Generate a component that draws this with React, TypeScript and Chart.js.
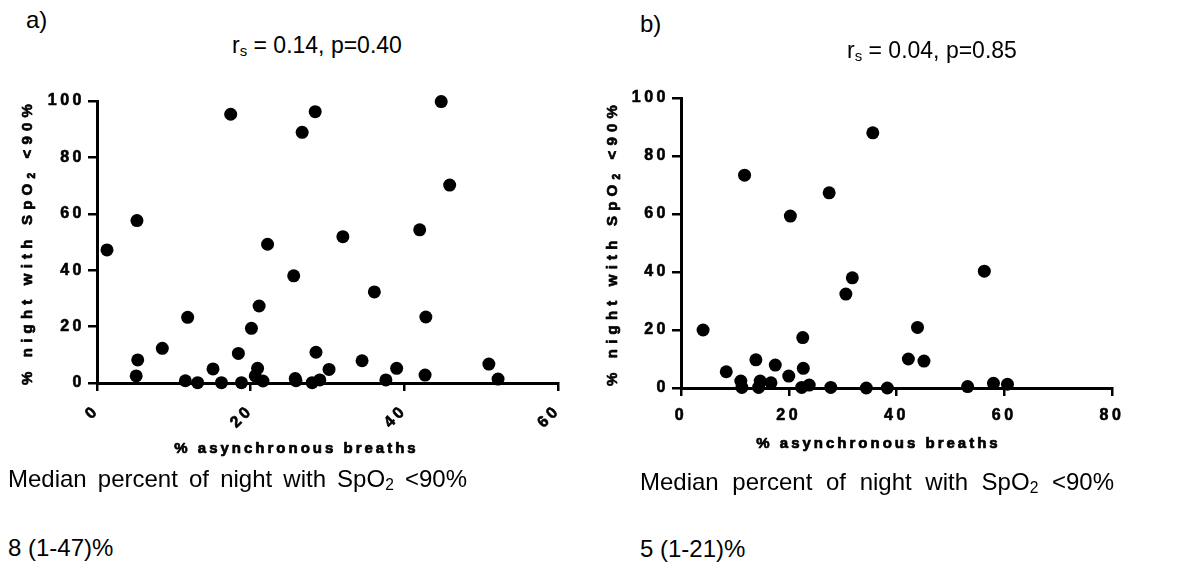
import React, { useEffect, useRef } from 'react';
import { Chart, registerables } from 'chart.js';

Chart.register(...registerables);

const FAMILY = 'Arial, "Liberation Sans", Helvetica, sans-serif';

// ---- Panel a) data ----
const panelAAsync = [1.3, 5.2, 5.3, 5.1, 8.5, 11.8, 11.5, 13.1, 15.1, 16.2, 17.4, 18.4, 18.8, 20.1, 21.1, 20.9, 20.6, 21.6, 22.2, 25.6, 25.8, 25.9, 26.7, 28.4, 28.5, 28.0, 29.0, 30.2, 32.0, 44.8, 45.9, 42.0, 36.1, 42.8, 34.5, 39.0, 37.6, 42.7, 51.0, 52.2];
const panelANight = [47.2, 57.6, 8.2, 2.5, 12.3, 23.3, 0.8, 0.1, 5.0, 0.1, 95.3, 10.5, 0.1, 19.4, 27.3, 5.2, 2.5, 0.7, 49.2, 38.0, 1.6, 0.8, 88.9, 96.2, 10.9, 0.1, 1.1, 4.8, 51.9, 99.8, 70.2, 54.3, 32.3, 23.4, 7.9, 5.2, 1.1, 2.8, 6.7, 1.4];
const panelAXTicks = [0, 20, 40, 60];
const panelAYTicks = [0, 20, 40, 60, 80, 100];

// ---- Panel b) data ----
const panelBAsync = [4.1, 8.4, 11.1, 11.3, 11.8, 13.9, 14.7, 14.4, 16.7, 17.5, 20.0, 20.3, 22.6, 22.7, 22.4, 23.8, 27.5, 27.8, 30.6, 31.8, 35.6, 34.4, 38.3, 56.3, 43.9, 42.2, 45.1, 53.2, 58.0, 60.6];
const panelBNight = [20.0, 5.6, 2.4, 0.2, 73.4, 9.7, 2.4, 0.2, 1.8, 7.9, 4.1, 59.3, 17.4, 6.8, 0.2, 1.0, 67.3, 0.2, 32.4, 38.0, 88.0, 0.0, 0.0, 40.3, 20.9, 10.0, 9.3, 0.5, 1.6, 1.3];
const panelBXTicks = [0, 20, 40, 60, 80];
const panelBYTicks = [0, 20, 40, 60, 80, 100];

const xTitleText = '% asynchronous breaths';
const yTitleParts = ['% night with SpO', '2', ' <90%'];

type Seg = { text: string; size: number; dy?: number };

function drawSegs(ctx: CanvasRenderingContext2D, segs: Seg[], cx: number, cy: number, rot: number, spacing: number) {
  ctx.save();
  ctx.translate(cx, cy);
  ctx.rotate(rot);
  (ctx as any).letterSpacing = spacing + 'px';
  ctx.textAlign = 'left';
  ctx.textBaseline = 'alphabetic';
  ctx.lineWidth = 0.7;
  ctx.strokeStyle = '#000';
  ctx.lineJoin = 'round';
  let total = 0;
  const widths = segs.map((s) => {
    ctx.font = `bold ${s.size}px ${FAMILY}`;
    const w = ctx.measureText(s.text).width;
    total += w;
    return w;
  });
  let x = -total / 2;
  segs.forEach((s, i) => {
    ctx.font = `bold ${s.size}px ${FAMILY}`;
    const y = 5.5 + (s.dy || 0);
    ctx.strokeText(s.text, x, y);
    ctx.fillText(s.text, x, y);
    x += widths[i];
  });
  ctx.restore();
}

const axisTitlesPlugin = {
  id: 'axisTitles',
  afterDraw(chart: any, _args: any, opts: any) {
    const ctx: CanvasRenderingContext2D = chart.ctx;
    const ca = chart.chartArea;
    ctx.save();
    ctx.fillStyle = '#000';
    drawSegs(ctx, [{ text: xTitleText, size: 15 }], (ca.left + ca.right) / 2 + opts.xTitleDx, opts.xTitleY, 0, 3);
    drawSegs(
      ctx,
      [
        { text: yTitleParts[0], size: 15 },
        { text: yTitleParts[1], size: 10, dy: 3 },
        { text: yTitleParts[2], size: 15 },
      ],
      opts.yTitleX,
      (ca.top + ca.bottom) / 2,
      -Math.PI / 2,
      5.2
    );
    ctx.restore();
  },
};

const tickSpacingPlugin = {
  id: 'tickSpacing',
  beforeUpdate(chart: any) {
    (chart.ctx as any).letterSpacing = '3.5px';
  },
  beforeDraw(chart: any) {
    (chart.ctx as any).letterSpacing = '3.5px';
  },
};

type Panel = {
  xs: number[];
  ys: number[];
  xTicks: number[];
  yTicks: number[];
  yAxisW: number;
  xAxisH: number;
  padTop: number;
  padRight: number;
  rot: number;
  xTickPad: number;
  xTitleY: number;
  xTitleDx: number;
  yTitleX: number;
};

function makeConfig(p: Panel): any {
  const tickFont = { family: FAMILY, size: 16, weight: 'bold' as const };
  return {
    type: 'scatter',
    data: {
      datasets: [
        {
          data: p.xs.map((x, i) => ({ x, y: p.ys[i] })),
          backgroundColor: '#000',
          borderColor: '#000',
          borderWidth: 0,
          pointRadius: 6.5,
          pointHoverRadius: 6.5,
          clip: false,
        },
      ],
    },
    options: {
      animation: false,
      responsive: false,
      maintainAspectRatio: false,
      events: [],
      layout: { autoPadding: false, padding: { top: p.padTop, right: p.padRight, left: 0, bottom: 0 } },
      plugins: {
        legend: { display: false },
        tooltip: { enabled: false },
        axisTitles: { xTitleY: p.xTitleY, xTitleDx: p.xTitleDx, yTitleX: p.yTitleX },
      },
      scales: {
        x: {
          type: 'linear',
          min: p.xTicks[0],
          max: p.xTicks[p.xTicks.length - 1],
          afterBuildTicks: (s: any) => {
            s.ticks = p.xTicks.map((v) => ({ value: v }));
          },
          afterFit: (s: any) => {
            s.height = p.xAxisH;
          },
          ticks: {
            font: tickFont,
            color: '#000',
            textStrokeColor: '#000',
            textStrokeWidth: 0.6,
            minRotation: p.rot,
            maxRotation: p.rot,
            padding: p.xTickPad,
          },
          grid: { drawOnChartArea: false, drawTicks: true, tickLength: 8, color: '#000', lineWidth: 2.5 },
          border: { display: true, color: '#000', width: 3 },
        },
        y: {
          type: 'linear',
          min: p.yTicks[0],
          max: p.yTicks[p.yTicks.length - 1],
          afterBuildTicks: (s: any) => {
            s.ticks = p.yTicks.map((v) => ({ value: v }));
          },
          afterFit: (s: any) => {
            s.width = p.yAxisW;
          },
          ticks: { font: tickFont, color: '#000', textStrokeColor: '#000', textStrokeWidth: 0.6, padding: 3 },
          grid: { drawOnChartArea: false, drawTicks: true, tickLength: 9, color: '#000', lineWidth: 2.5 },
          border: { display: true, color: '#000', width: 3 },
        },
      },
    },
    plugins: [tickSpacingPlugin, axisTitlesPlugin],
  };
}

const panelA: Panel = {
  xs: panelAAsync,
  ys: panelANight,
  xTicks: panelAXTicks,
  yTicks: panelAYTicks,
  yAxisW: 97,
  xAxisH: 97,
  padTop: 41,
  padRight: 42,
  rot: 45,
  xTickPad: 10,
  xTitleY: 387,
  xTitleDx: -31,
  yTitleX: 26,
};

const panelB: Panel = {
  xs: panelBAsync,
  ys: panelBNight,
  xTicks: panelBXTicks,
  yTicks: panelBYTicks,
  yAxisW: 91,
  xAxisH: 92,
  padTop: 38,
  padRight: 66,
  rot: 0,
  xTickPad: 10,
  xTitleY: 382,
  xTitleDx: -18,
  yTitleX: 21,
};

const base: React.CSSProperties = {
  position: 'absolute',
  fontFamily: FAMILY,
  color: '#000',
  margin: 0,
  whiteSpace: 'nowrap',
};

const sub: React.CSSProperties = { fontSize: '0.65em', verticalAlign: '-0.22em', lineHeight: 0 };

// top = baseline - 0.8465 * size (line-height equals font size)
function at(left: number, baseline: number, size: number): React.CSSProperties {
  return { ...base, left, top: baseline - 0.8465 * size, fontSize: size, lineHeight: size + 'px' };
}

export default function App() {
  const aRef = useRef<HTMLCanvasElement>(null);
  const bRef = useRef<HTMLCanvasElement>(null);

  useEffect(() => {
    const a = new Chart(aRef.current as HTMLCanvasElement, makeConfig(panelA));
    const b = new Chart(bRef.current as HTMLCanvasElement, makeConfig(panelB));
    return () => {
      a.destroy();
      b.destroy();
    };
  }, []);

  const just: React.CSSProperties = { textAlign: 'justify', textAlignLast: 'justify', whiteSpace: 'normal' };

  return (
    <div
      style={{
        position: 'fixed',
        left: 0,
        top: 0,
        width: 1178,
        height: 566,
        background: '#fff',
        overflow: 'hidden',
      }}
    >
      <canvas ref={aRef} width={600} height={420} style={{ position: 'absolute', left: 0, top: 60, width: 600, height: 420 }} />
      <canvas ref={bRef} width={588} height={420} style={{ position: 'absolute', left: 590, top: 60, width: 588, height: 420 }} />

      <div style={at(26, 28, 24)}>a)</div>
      <div style={at(232, 53, 23)}>
        r<span style={sub}>s</span> = 0.14, p=0.40
      </div>
      <div style={at(640, 32, 24)}>b)</div>
      <div style={at(847, 58, 23)}>
        r<span style={sub}>s</span> = 0.04, p=0.85
      </div>

      <div style={{ ...at(8, 487, 24), ...just, width: 459 }}>
        Median percent of night with SpO<span style={sub}>2</span> &lt;90%
      </div>
      <div style={at(8, 556, 24)}>8 (1-47)%</div>

      <div style={{ ...at(640, 490, 24), ...just, width: 474 }}>
        Median percent of night with SpO<span style={sub}>2</span> &lt;90%
      </div>
      <div style={at(640, 557, 24)}>5 (1-21)%</div>
    </div>
  );
}
